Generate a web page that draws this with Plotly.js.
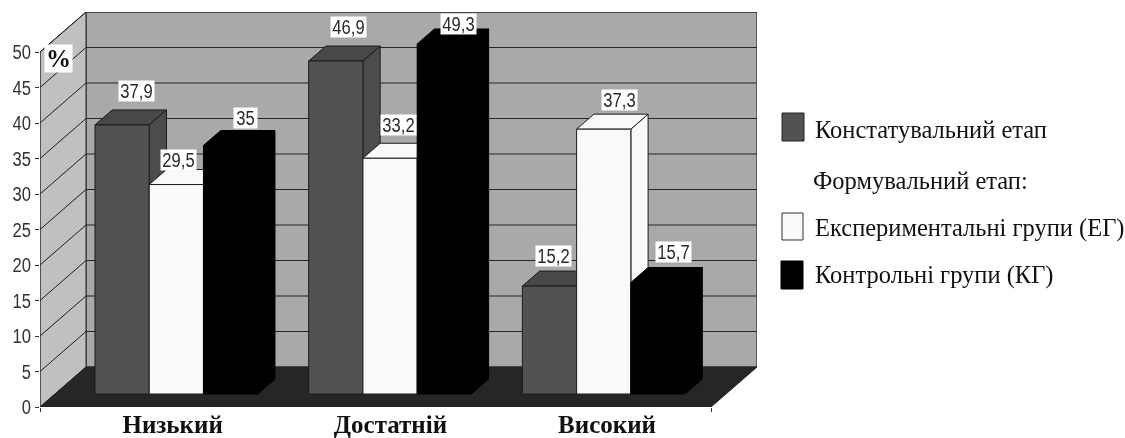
<!DOCTYPE html>
<html><head><meta charset="utf-8">
<script src="https://cdn.plot.ly/plotly-3.0.1.min.js"></script>
<style>html,body{margin:0;padding:0;background:#fff}#c{width:1125px;height:438px;filter:blur(0.35px)}</style></head>
<body><div id="c"></div>
<script>
// ---- data ----
const categories = ['Низький','Достатній','Високий'];
const seriesKonst = [37.9,46.9,15.2];
const seriesEG    = [29.5,33.2,37.3];
const seriesKG    = [35,49.3,15.7];
const yTicks = [0,5,10,15,20,25,30,35,40,45,50];
const legendNames = ['Констатувальний етап','Формувальний етап:','Експериментальні групи (ЕГ)','Контрольні групи (КГ)'];

// ---- geometry of the oblique projection ----
const W=1125,H=438, L=40,R=757,T=12,B=407;
const pxX=(711-40)/3, pxY=7.1;           // pixels per category, per value unit
const dx=46/pxX, dy=40/pxY;              // wall offset in axis units
const FRONT=0.325, BACK=0.7;             // bar depth in the floor
const START=0.179, PERIOD=0.9554, BW=0.2425;
const proj=(x,v,d)=>[x+d*dx, v+d*dy];

const FONT_NUM='"Liberation Sans",Arial,sans-serif';
const FONT_SERIF='"Liberation Serif",serif';

const traces=[];
function poly(points,fill,line,w){
  const xs=points.map(p=>p[0]),ys=points.map(p=>p[1]);
  xs.push(xs[0]);ys.push(ys[0]);
  traces.push({type:'scatter',mode:'lines',x:xs,y:ys,fill:'toself',fillcolor:fill,
    line:{color:line,width:w===undefined?1:w},hoverinfo:'skip',showlegend:false,cliponaxis:false});
}
function seg(a,b,color,w){
  traces.push({type:'scatter',mode:'lines',x:[a[0],b[0]],y:[a[1],b[1]],
    line:{color:color,width:w||1},hoverinfo:'skip',showlegend:false,cliponaxis:false});
}
const XMAX=3;
// walls and floor
poly([proj(0,0,1),proj(XMAX,0,1),proj(XMAX,50,1),proj(0,50,1)],'#a9a9a9','#2a2a2a',1.2);
poly([proj(0,0,0),proj(0,0,1),proj(0,50,1),proj(0,50,0)],'#c0c0c0','#2a2a2a',1);
yTicks.forEach(v=>{ if(v>0){
  seg(proj(0,v,0),proj(0,v,1),'#1f1f1f',1);
  seg(proj(0,v,1),proj(XMAX,v,1),'#262626',1.2);
}});
poly([proj(0,0,0),proj(XMAX,0,0),proj(XMAX,0,1),proj(0,0,1)],'#262626','#262626',1);
// axis lines
seg([0,0],[0,50],'#333',1);
seg([0,0],[XMAX,0],'#222',1.2);

// bars
const styles=[
 {front:'#525252',side:'#4c4c4c',top:'#484848',line:'#1c1c1c'},
 {front:'#f9f9f9',side:'#f9f9f9',top:'#f9f9f9',line:'#1c1c1c'},
 {front:'#000000',side:'#000000',top:'#000000',line:'#000000'}];
const all=[seriesKonst,seriesEG,seriesKG];
categories.forEach((c,g)=>{
  all.forEach((vals,s)=>{
    const v=vals[g], x0=START+PERIOD*g+BW*s, x1=x0+BW, st=styles[s];
    poly([proj(x1,0,FRONT),proj(x1,0,BACK),proj(x1,v,BACK),proj(x1,v,FRONT)],st.side,st.line);
    poly([proj(x0,v,FRONT),proj(x1,v,FRONT),proj(x1,v,BACK),proj(x0,v,BACK)],st.top,st.line);
    poly([proj(x0,0,FRONT),proj(x1,0,FRONT),proj(x1,v,FRONT),proj(x0,v,FRONT)],st.front,st.line);
  });
});

// value labels
const shiftX=[[14,2,15],[13,8,14],[4,16,16]];
const shiftY=[[34,25,28],[34,33,20],[30,29,31]];
const annotations=[];
categories.forEach((c,g)=>{
  all.forEach((vals,s)=>{
    const v=vals[g], xc=START+PERIOD*g+BW*(s+.5), p=proj(xc,v,FRONT);
    const txt=String(v).replace('.',',');
    annotations.push({xref:'x',yref:'y',x:p[0],y:p[1],xshift:shiftX[g][s],yshift:shiftY[g][s],
      xanchor:'center',yanchor:'middle',text:txt,showarrow:false,bgcolor:'#ffffff',borderpad:0,
      width:txt.length>2?35:23,height:20,
      font:{family:FONT_NUM,size:20,color:'#2a2a2a'}});
  });
});
// % label
const px=(x)=>(x-L)/(R-L), py=(y)=>(B-y)/(B-T);
annotations.push({xref:'paper',yref:'paper',x:px(58.5),y:py(58.5),xanchor:'center',yanchor:'middle',
  text:'<b>%</b>',showarrow:false,bgcolor:'#fff',borderpad:0,width:27,height:27,
  font:{family:FONT_SERIF,size:25,color:'#111'}});
// legend text
const legY=[129,180,228,275], legX=[813,811,813,813];
legendNames.forEach((t,i)=>annotations.push({xref:'paper',yref:'paper',x:px(legX[i]),y:py(legY[i]),
  xanchor:'left',yanchor:'middle',text:t,showarrow:false,font:{family:FONT_SERIF,size:24.5,color:'#111'}}));
// legend swatches
const sw=[[782,804,113,141,'#525252','#222'],[782,803,213,240,'#f9f9f9','#333'],[781,803,261,289,'#000','#000']];
const shapes=sw.map(a=>({type:'rect',xref:'paper',yref:'paper',x0:px(a[0]),x1:px(a[1]),y0:py(a[3]),y1:py(a[2]),
  fillcolor:a[4],line:{color:a[5],width:1}}));

const layout={
  width:W,height:H,showlegend:false,paper_bgcolor:'#fff',plot_bgcolor:'rgba(0,0,0,0)',
  margin:{l:L,r:W-R,t:T,b:H-B,pad:0},
  xaxis:{range:[0,(R-L)/pxX],showgrid:false,zeroline:false,showline:false,
    tickmode:'array',tickvals:[0.593,1.567,2.535],ticktext:categories.map(c=>'<b>'+c+'</b>'),ticks:'',
    ticklabelstandoff:0,
    tickfont:{family:FONT_SERIF,size:25,color:'#111'},
    minor:{tickmode:'array',tickvals:[0,XMAX],ticks:'outside',ticklen:4,tickcolor:'#333',tickwidth:1}},
  yaxis:{range:[0,(B-T)/pxY],showgrid:false,zeroline:false,showline:false,
    tickmode:'array',tickvals:yTicks,ticks:'outside',ticklen:4,tickcolor:'#333',tickwidth:1,
    tickfont:{family:FONT_NUM,size:20,color:'#333'}},
  annotations,shapes
};
Plotly.newPlot('c',traces,layout,{displayModeBar:false,staticPlot:true}).then(gd=>{
  // the reference's sans digits are condensed
  gd.querySelectorAll('.annotation-text, .ytick text').forEach(t=>{
    if(/^\d/.test(t.textContent)){
      const n=t.getComputedTextLength();
      t.setAttribute('textLength',(n*0.83).toFixed(1));
      t.setAttribute('lengthAdjust','spacingAndGlyphs');
    }
  });
});
</script></body></html>
